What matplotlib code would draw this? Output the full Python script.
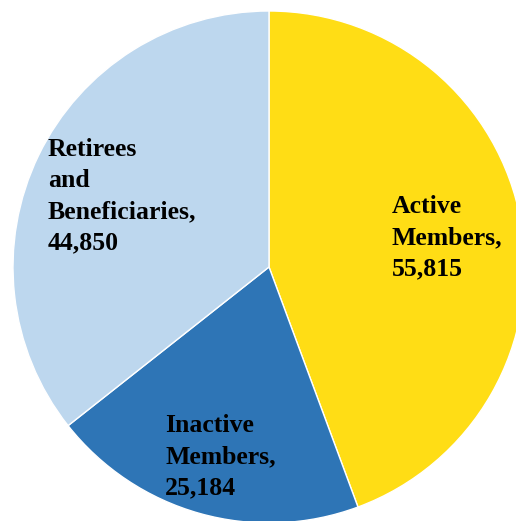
import matplotlib
matplotlib.use("Agg")
import matplotlib.pyplot as plt

categories = ["Active\nMembers,", "Inactive\nMembers,", "Retirees\nand\nBeneficiaries,"]
values = [55815, 25184, 44850]
colors = ["#FFDD15", "#2E75B6", "#BDD7EE"]

W, H = 516, 521
fig = plt.figure(figsize=(W / 100, H / 100), dpi=100)
ax = fig.add_axes([0, 0, 1, 1])

cx, cy, r = 269, H - 267, 256
ax.pie(values, colors=colors, startangle=90, counterclock=False,
       center=(cx, cy), radius=r, frame=True,
       wedgeprops=dict(edgecolor="white", linewidth=1))
ax.set_xlim(0, W)
ax.set_ylim(0, H)
ax.set_aspect("equal")
ax.axis("off")

# (left x, baseline of first line) in pixels from top
label_pos = [(392, 213), (165, 432), (48, 156)]
step = 31
for cat, val, (x, y) in zip(categories, values, label_pos):
    lines = cat.split("\n") + [f"{val:,}"]
    for i, line in enumerate(lines):
        ax.text(x, H - (y + i * step), line, ha="left", va="baseline",
                fontsize=18.5, fontweight="bold", family="Liberation Serif",
                color="black")

fig.savefig("out.png", dpi=100)
